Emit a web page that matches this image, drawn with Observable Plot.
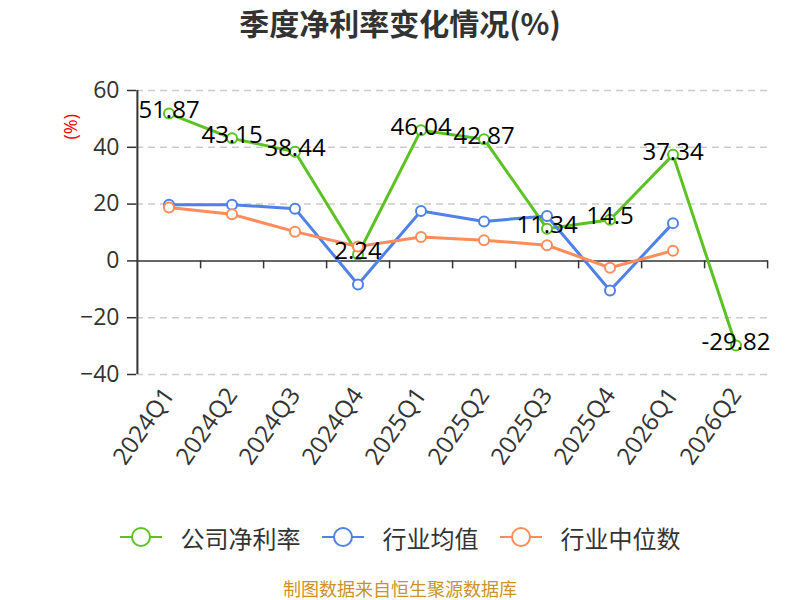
<!DOCTYPE html>
<html>
<head>
<meta charset="utf-8">
<script src="https://cdn.jsdelivr.net/npm/d3@7"></script>
<script src="https://cdn.jsdelivr.net/npm/@observablehq/plot@0.6"></script>
<style>
  html, body { margin: 0; padding: 0; background: #fff; }
  body { width: 800px; height: 600px; position: relative; overflow: hidden;
         font-family: "Open Sans", "Noto Sans CJK SC", sans-serif; }
  #title { position: absolute; left: 0; top: 0; width: 800px; height: 45px; line-height: 45px;
           text-align: center; font-size: 30px; font-weight: bold; color: #333;
           font-family: "Noto Sans CJK SC", sans-serif; }
  #chart { position: absolute; left: 0; top: 45px; }
  #legend { position: absolute; left: 0; top: 520px; width: 800px; height: 34px;
            display: flex; justify-content: center; align-items: center; gap: 21px;
            font-family: "Noto Sans CJK SC", sans-serif; font-size: 24px; color: #333; }
  .item { display: flex; align-items: center; gap: 19px; }
  #caption { position: absolute; left: 0; top: 576px; width: 800px; text-align: center;
             font-size: 18px; color: #c9932a; font-family: "Noto Sans CJK SC", sans-serif; line-height: 24px; }
</style>
</head>
<body>
<div id="title">季度净利率变化情况(%)</div>
<div id="chart"></div>
<div id="legend"></div>
<div id="caption">制图数据来自恒生聚源数据库</div>
<script>
const quarters = ["2024Q1","2024Q2","2024Q3","2024Q4","2025Q1","2025Q2","2025Q3","2025Q4","2026Q1","2026Q2"];
const company = [51.87, 43.15, 38.44, 2.24, 46.04, 42.87, 11.34, 14.5, 37.34, -29.82];
const industryAvg = [19.8, 19.8, 18.4, -8.3, 17.6, 13.9, 15.8, -10.4, 13.3, null];
const industryMedian = [18.8, 16.4, 10.3, 5.1, 8.4, 7.3, 5.5, -2.4, 3.6, null];
const seriesNames = ["公司净利率", "行业均值", "行业中位数"];
const seriesColors = ["#5cc224", "#4f81e6", "#ff8c5a"];
const yTicks = [-40, -20, 0, 20, 40, 60];

const seriesValues = [company, industryAvg, industryMedian];
const rows = [];
seriesValues.forEach((vals, si) => {
  vals.forEach((v, i) => {
    if (v !== null) rows.push({q: quarters[i], v, series: seriesNames[si]});
  });
});
const companyRows = rows.filter(d => d.series === seriesNames[0]);

const W = 800, H = 455, mL = 136, mR = 32;
const bw = (W - mL - mR) / quarters.length;

const plot = Plot.plot({
  width: W, height: H,
  marginTop: 45, marginBottom: 126, marginLeft: mL, marginRight: mR,
  style: {fontFamily: "'Open Sans', 'Noto Sans CJK SC', sans-serif", background: "white"},
  x: {type: "band", domain: quarters, padding: 0, label: null},
  y: {domain: [-40, 60], label: null},
  color: {domain: seriesNames, range: seriesColors},
  marks: [
    Plot.gridY(yTicks.filter(t => t !== 0), {stroke: "#ccc", strokeOpacity: 1, strokeWidth: 1.5, strokeDasharray: "7,5"}),
    Plot.ruleY([0], {stroke: "#333", strokeWidth: 1.5}),
    Plot.ruleX(quarters, {x: d => d, y1: 0, y2: -2.8, dx: bw / 2, stroke: "#333", strokeWidth: 1.5}),
    Plot.ruleX([quarters[0]], {x: d => d, dx: -bw / 2, y1: -40, y2: 60, stroke: "#333", strokeWidth: 2}),
    Plot.axisY(yTicks, {tickSize: 9, tickPadding: 8, fontSize: 23, color: "#333", label: null, strokeWidth: 1.5}),
    Plot.axisX({tickSize: 0, tickRotate: -55, tickPadding: 16, fontSize: 24, color: "#333", label: null}),
    Plot.text(["(%)"], {frameAnchor: "top-left", dx: -72, dy: 49, rotate: -90, fill: "red", fontSize: 18}),
    Plot.line(rows, {x: "q", y: "v", z: "series", stroke: "series", strokeWidth: 3}),
    Plot.dot(rows, {x: "q", y: "v", r: 5, fill: "white", stroke: "series", strokeWidth: 2}),
    Plot.text(companyRows, {x: "q", y: "v", text: d => String(d.v), dy: -3, fontSize: 24, fill: "black"})
  ]
});
document.getElementById("chart").appendChild(plot);

const legend = document.getElementById("legend");
seriesNames.forEach((name, i) => {
  const item = document.createElement("div");
  item.className = "item";
  item.innerHTML = `<svg width="42" height="22"><line x1="0" y1="11" x2="42" y2="11" stroke="${seriesColors[i]}" stroke-width="2"/><circle cx="21" cy="11" r="9" fill="white" stroke="${seriesColors[i]}" stroke-width="2"/></svg><span>${name}</span>`;
  legend.appendChild(item);
});
</script>
</body>
</html>
